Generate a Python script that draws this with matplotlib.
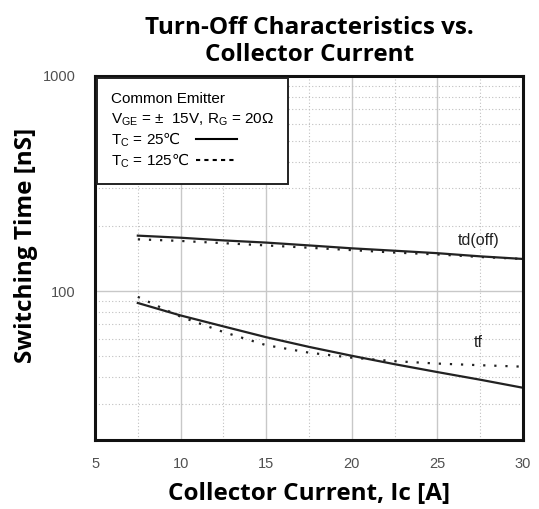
import matplotlib
matplotlib.use("Agg")
from matplotlib import pyplot as plt
from matplotlib.lines import Line2D
from matplotlib.ticker import FixedLocator, NullFormatter, FixedFormatter

plt.rcParams['font.family'] = ['Liberation Sans', 'DejaVu Sans']
plt.rcParams['mathtext.fontset'] = 'custom'
plt.rcParams['mathtext.rm'] = 'Liberation Sans'
plt.rcParams['mathtext.sf'] = 'DejaVu Sans'  # for the degree-celsius sign

# collector current [A]
ic = [7.5, 10, 12.5, 15, 17.5, 20, 22.5, 25, 27.5, 30]
# switching times [nS]
td_off_25 = [181, 177, 172, 168, 163, 158, 154, 150, 145, 141]
td_off_125 = [174, 171, 167, 163, 159, 155, 151, 148, 144, 141]
tf_25 = [88, 77, 68.5, 61, 55, 50, 45.7, 42, 38.7, 35.5]
tf_125 = [94, 76, 64.5, 56, 51.7, 49, 47.2, 46, 45.2, 44.5]

x_ticks = [5, 10, 15, 20, 25, 30]
y_ticks = [100, 1000]

fig = plt.figure(figsize=(5.39, 5.09), dpi=100)
ax = fig.add_axes([0.1763, 0.1356, 0.7940, 0.7151])

dots = (0, (1, 4))
ax.plot(ic, td_off_25, color="#222222", lw=1.6)
ax.plot(ic, td_off_125, color="#222222", lw=1.6, linestyle=dots)
ax.plot(ic, tf_25, color="#222222", lw=1.6)
ax.plot(ic, tf_125, color="#222222", lw=1.6, linestyle=dots)

ax.set_yscale("log")
ax.set_xlim(5, 30)
ax.set_ylim(20.3, 1000)

ax.xaxis.set_major_locator(FixedLocator(x_ticks))
ax.xaxis.set_minor_locator(FixedLocator([7.5, 12.5, 17.5, 22.5, 27.5]))
ax.yaxis.set_major_locator(FixedLocator(y_ticks))
ax.yaxis.set_major_formatter(FixedFormatter([str(v) for v in y_ticks]))
ax.yaxis.set_minor_locator(FixedLocator([v * d for d in (10, 100) for v in range(2, 10)]))
ax.yaxis.set_minor_formatter(NullFormatter())

ax.grid(which="major", color="#c8c8c8", lw=1.0, linestyle="-")
ax.grid(which="minor", color="#c0c0c0", lw=0.8, linestyle=(0, (1, 2)))
ax.tick_params(which="both", length=0, labelsize=10.5, labelcolor="#505050", pad=12)
ax.tick_params(axis="y", pad=14)
for s in ax.spines.values():
    s.set_linewidth(2.2)
    s.set_color("#111111")

ax.text(27.4, 172, "td(off)", fontsize=11.5, color="#222222", ha="center", va="center")
ax.text(27.4, 57.5, "tf", fontsize=11.5, color="#222222", ha="center", va="center")

handles = [Line2D([], [], color="black", lw=1.5),
           Line2D([], [], color="black", lw=1.5, linestyle=(0, (2, 2)))]
labels = [r"T$_{\rm C}$ = 25$\mathsf{℃}$", r"T$_{\rm C}$ = 125$\mathsf{℃}$"]
leg = ax.legend(handles, labels,
                title="Common Emitter\n" + r"V$_{\rm GE}$ = ±  15V, R$_{\rm G}$ = 20Ω",
                loc="upper left", bbox_to_anchor=(0.0, 1.0), borderaxespad=0.15,
                fontsize=11, title_fontsize=11, alignment="left",
                handlelength=2.7, handletextpad=0.4, labelspacing=0.15,
                borderpad=0.9, fancybox=False, framealpha=1, edgecolor="#222222")
leg.get_frame().set_linewidth(1.4)
leg.get_title().set_linespacing(1.45)

# put line samples after the text and line them up in one column
rows = leg._legend_handle_box.get_children()[0].get_children()
for row in rows:
    kids = row.get_children()
    row._children = [kids[1], kids[0]]
fig.canvas.draw()
widths = [t.get_window_extent().width for t in leg.get_texts()]
for row, w in zip(rows, widths):
    row.sep = 0.4 * 11 + (max(widths) - w) * 72 / fig.dpi

bold = dict(family=["Open Sans", "DejaVu Sans"], fontweight="bold")
ax.set_xlabel("Collector Current, Ic [A]", fontsize=17.5, labelpad=8, **bold)
ax.set_ylabel("Switching Time [nS]", fontsize=17.5, **bold)
ax.yaxis.set_label_coords(-0.134, 0.535)
fig.text(0.574, 0.918, "Turn-Off Characteristics vs.\nCollector Current",
         ha="center", va="center", fontsize=17.5, linespacing=1.15, **bold)

plt.savefig("out.png", dpi=100)
